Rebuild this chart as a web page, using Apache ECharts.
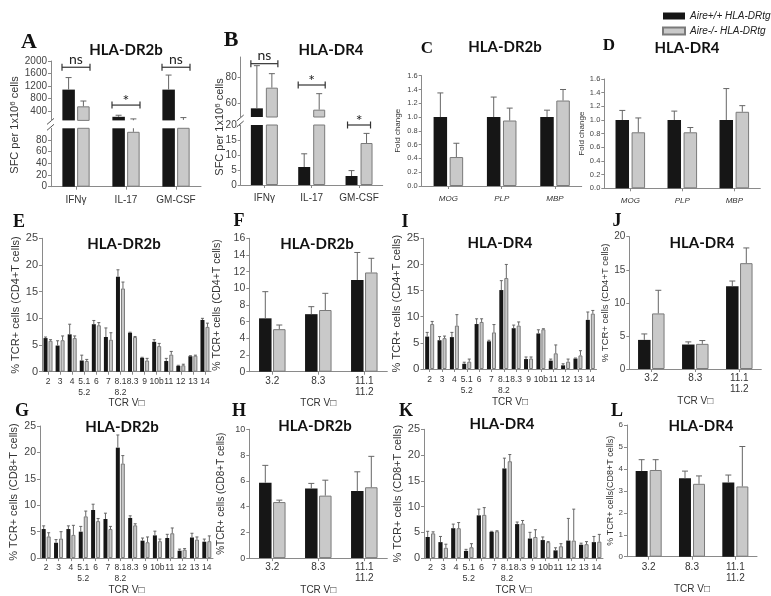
<!DOCTYPE html>
<html>
<head>
<meta charset="utf-8">
<script src="https://cdn.jsdelivr.net/npm/echarts@6/dist/echarts.min.js"></script>
<style>html,body{margin:0;padding:0;background:#fff}#chart{width:771px;height:596px}</style>
</head>
<body>
<div id="chart"></div>
<script>
// ---- data ----
var wtName = 'Aire+/+ HLA-DRtg';
var koName = 'Aire-/- HLA-DRtg';

var cytoCats = ['IFNγ', 'IL-17', 'GM-CSF'];
var aWt = [1085, 215, 1085], aWtErr = [1470, 265, 1550];
var aKo = [550, 94, 115], aKoErr = [720, 148, 190];
var aSig = ['ns', '*', 'ns'], aSigY = [1800, 590, 1800];

var bWt = [56.5, 6, 3], bWtErr = [88.5, 10.4, 4.8];
var bKo = [72, 55.5, 14], bKoErr = [82.5, 67.5, 17.2];
var bSig = ['ns', '*', '*'], bSigY = [90, 74, 20];

var antigenCats = ['MOG', 'PLP', 'MBP'];
var cWt = [1, 1, 1], cWtErr = [1.35, 1.29, 1.10];
var cKo = [0.42, 0.95, 1.24], cKoErr = [0.62, 1.13, 1.40];
var dWt = [1, 1, 1], dWtErr = [1.14, 1.13, 1.46];
var dKo = [0.82, 0.82, 1.12], dKoErr = [1.03, 0.89, 1.21];

var vbCats = ['2', '3', '4', '5.1\n5.2', '6', '7', '8.1\n8.2', '8.3', '9', '10b', '11', '12', '13', '14'];
var vbFewCats = ['3.2', '8.3', '11.1\n11.2'];

var eWt = [6.3, 4.9, 7.0, 2.1, 8.9, 6.5, 17.8, 7.3, 2.6, 5.6, 2.0, 1.1, 2.9, 9.7];
var eWtErr = [6.5, 5.8, 8.9, 3.1, 9.6, 8.2, 19.1, 7.4, 2.7, 6.0, 2.5, 1.2, 3.0, 10.0];
var eKo = [5.8, 5.9, 6.3, 2.0, 8.7, 6.0, 15.6, 6.5, 2.1, 4.8, 3.2, 1.2, 3.0, 8.4];
var eKoErr = [6.0, 6.7, 6.7, 2.3, 9.2, 7.3, 16.8, 6.6, 2.5, 5.3, 3.8, 1.4, 3.1, 9.1];

var fWt = [6.4, 6.9, 11.0], fWtErr = [9.6, 7.8, 14.3];
var fKo = [5.1, 7.4, 11.9], fKoErr = [5.6, 9.4, 13.6];

var iWt = [6.2, 5.5, 6.1, 1.0, 8.6, 5.3, 15.1, 7.8, 1.9, 6.8, 1.6, 0.7, 2.0, 9.4];
var iWtErr = [7.0, 6.2, 7.0, 1.3, 9.6, 5.5, 16.9, 8.4, 2.3, 7.5, 1.9, 1.0, 2.1, 10.9];
var iKo = [8.6, 5.9, 8.3, 1.4, 9.0, 7.0, 17.4, 8.3, 2.0, 7.6, 3.0, 1.4, 2.6, 10.6];
var iKoErr = [9.1, 6.3, 10.4, 1.9, 9.6, 8.5, 20.0, 9.0, 2.3, 7.7, 4.6, 1.9, 3.5, 11.2];

var jWt = [4.4, 3.7, 12.5], jWtErr = [5.3, 4.1, 13.3];
var jKo = [8.4, 3.8, 16.0], jKoErr = [11.9, 4.3, 18.3];

var gWt = [5.5, 2.9, 5.5, 5.0, 9.1, 7.4, 20.9, 7.6, 3.3, 4.3, 3.8, 1.4, 3.9, 3.1];
var gWtErr = [6.1, 3.5, 6.1, 6.0, 10.2, 8.5, 23.3, 8.0, 3.8, 5.1, 4.5, 1.7, 4.7, 3.6];
var gKo = [4.1, 3.7, 4.4, 7.9, 7.0, 5.5, 17.9, 6.2, 3.0, 3.2, 4.7, 1.6, 3.5, 3.2];
var gKoErr = [4.8, 5.0, 6.2, 8.9, 7.5, 6.0, 19.4, 6.5, 4.0, 3.6, 5.7, 1.8, 4.0, 4.2];

var hWt = [5.85, 5.4, 5.2], hWtErr = [7.2, 5.8, 6.7];
var hKo = [4.35, 4.85, 5.5], hKoErr = [4.5, 6.05, 7.9];

var kWt = [4.1, 3.1, 5.8, 1.4, 8.3, 5.1, 17.4, 6.6, 3.8, 3.5, 1.5, 3.4, 2.6, 3.1];
var kWtErr = [5.2, 4.2, 6.6, 1.7, 9.5, 5.2, 19.4, 7.0, 5.0, 4.1, 2.0, 7.7, 2.9, 4.2];
var kKo = [4.8, 2.0, 5.8, 2.1, 8.4, 5.2, 18.8, 6.7, 4.1, 3.1, 2.3, 3.4, 2.7, 3.2];
var kKoErr = [5.1, 2.7, 6.9, 2.8, 9.8, 5.3, 20.1, 7.3, 5.5, 3.2, 2.8, 9.5, 3.2, 4.6];

var lWt = [3.9, 3.57, 3.38], lWtErr = [4.42, 3.9, 3.72];
var lKo = [3.95, 3.32, 3.2], lKoErr = [4.42, 3.68, 5.02];

// ---- styles ----
var AX = '#8a8a8a', BLACK = '#161616', GRAY = '#c9c9c9', EDGE = '#7a7a7a', ERR = '#666';
var SANS = 'Liberation Sans', TITLE = 'Lato', SERIF = 'Liberation Serif';
var TCR = 'TCR V\u25A1';

var chart = echarts.init(document.getElementById('chart'));
var option = {
	animation: false,
	backgroundColor: '#fff',
	legend: {
		orient: 'vertical', left: 657, top: 6, itemWidth: 22, itemHeight: 7, itemGap: 5,
		icon: 'rect', data: [wtName, koName],
		textStyle: {fontStyle: 'italic', fontSize: 10, fontFamily: SANS, color: '#222', padding: [0, 0, 0, 0]}
	},
	grid: [], xAxis: [], yAxis: [], series: [], graphic: []
};

function plain(v) { return String(v); }

function addGrid(box, cats, y, x) {
	var gi = option.grid.length;
	option.grid.push({left: box[0], top: box[1], width: box[2], height: box[3]});
	var xa = {
		type: 'category', gridIndex: gi, data: cats, show: x.show !== false,
		axisLine: {show: true, lineStyle: {color: AX}},
		axisTick: {show: true, alignWithLabel: true, length: 3, lineStyle: {color: AX}},
		axisLabel: {interval: 0, fontSize: x.fontSize || 10, fontFamily: SANS,
			fontStyle: x.italic ? 'italic' : 'normal', color: '#333', margin: x.margin || 4, lineHeight: 11},
		splitLine: {show: false}
	};
	if (x.name) {
		xa.name = x.name; xa.nameLocation = 'middle'; xa.nameGap = x.nameGap;
		xa.nameTextStyle = {fontSize: 10, fontFamily: SANS, color: '#333'};
	}
	option.xAxis.push(xa);
	var ya = {
		type: 'value', gridIndex: gi, min: y.min, max: y.max,
		axisLine: {show: true, lineStyle: {color: AX}},
		axisTick: {show: true, length: 3, lineStyle: {color: AX}},
		axisLabel: {fontSize: y.fontSize || 10, fontFamily: SANS, color: '#444', margin: 4, formatter: y.fmt || plain},
		splitLine: {show: false}
	};
	if (y.interval) ya.interval = y.interval;
	if (y.ticks) { ya.axisLabel.customValues = y.ticks; ya.axisTick.customValues = y.ticks; }
	if (y.name) {
		ya.name = y.name; ya.nameLocation = 'middle'; ya.nameGap = y.nameGap;
		ya.nameTextStyle = {fontSize: y.nameSize || 11, fontFamily: SANS, color: '#333'};
	}
	option.yAxis.push(ya);
	return gi;
}

function errSeries(gi, vals, ups, off, cap) {
	return {
		type: 'custom', xAxisIndex: gi, yAxisIndex: gi, clip: true, silent: true, z: 3,
		data: vals.map(function(v, i) { return [i, v, ups[i]]; }),
		renderItem: function(params, api) {
			var p0 = api.coord([api.value(0), api.value(1)]);
			var p1 = api.coord([api.value(0), api.value(2)]);
			var x = p0[0] + off;
			return {type: 'group', children: [
				{type: 'line', shape: {x1: x, y1: p0[1], x2: x, y2: p1[1]}, style: {stroke: ERR, lineWidth: 1}},
				{type: 'line', shape: {x1: x - cap, y1: p1[1], x2: x + cap, y2: p1[1]}, style: {stroke: ERR, lineWidth: 1}}
			]};
		}
	};
}

function addBars(gi, wt, wtErr, ko, koErr, bw, gapPx, cap) {
	var gap = Math.round(gapPx / bw * 100) + '%';
	option.series.push({type: 'bar', name: wtName, xAxisIndex: gi, yAxisIndex: gi, data: wt,
		barWidth: bw, barGap: gap, clip: true, itemStyle: {color: BLACK}});
	option.series.push({type: 'bar', name: koName, xAxisIndex: gi, yAxisIndex: gi, data: ko,
		barWidth: bw, barGap: gap, clip: true, itemStyle: {color: GRAY, borderColor: EDGE, borderWidth: 1}});
	var off = (bw + gapPx) / 2;
	option.series.push(errSeries(gi, wt, wtErr, -off, cap));
	option.series.push(errSeries(gi, ko, koErr, off, cap));
}

function sigSeries(gi, idx, ys, labels, half) {
	return {
		type: 'custom', xAxisIndex: gi, yAxisIndex: gi, silent: true, z: 4,
		data: idx.map(function(i, k) { return [i, ys[k]]; }),
		renderItem: function(params, api) {
			var p = api.coord([api.value(0), api.value(1)]);
			var lbl = labels[params.dataIndex];
			var st = {stroke: '#333', lineWidth: 1.2};
			return {type: 'group', children: [
				{type: 'line', shape: {x1: p[0] - half, y1: p[1], x2: p[0] + half, y2: p[1]}, style: st},
				{type: 'line', shape: {x1: p[0] - half, y1: p[1] - 3.5, x2: p[0] - half, y2: p[1] + 3.5}, style: st},
				{type: 'line', shape: {x1: p[0] + half, y1: p[1] - 3.5, x2: p[0] + half, y2: p[1] + 3.5}, style: st},
				{type: 'text', x: p[0], y: lbl === '*' ? p[1] + 4 : p[1] - 1,
					style: {text: lbl, font: (lbl === '*' ? '16px ' : '14px ') + TITLE, fill: '#222', textAlign: 'center', textVerticalAlign: 'bottom'}}
			]};
		}
	};
}

// A: broken axis
var aTop = addGrid([51, 61, 150, 59.4], cytoCats, {min: 100, max: 2000, ticks: [400, 800, 1200, 1600, 2000]}, {show: false});
var aBot = addGrid([51, 128.3, 150, 58.4], cytoCats, {min: 0, max: 100, ticks: [0, 20, 40, 60, 80]}, {margin: 8});
addBars(aTop, aWt, aWtErr, aKo, aKoErr, 12.5, 2.3, 3);
addBars(aBot, aWt, aWtErr, aKo, aKoErr, 12.5, 2.3, 3);
option.series.push(sigSeries(aTop, [0, 1, 2], aSigY, aSig, 14));

// B: broken axis
var bTop = addGrid([240.7, 57, 142, 60], cytoCats, {min: 50, max: 95, ticks: [60, 80]}, {show: false});
var bBot = addGrid([240.7, 125, 142, 60], cytoCats, {min: 0, max: 20, interval: 5}, {margin: 8});
addBars(bTop, bWt, bWtErr, bKo, bKoErr, 12, 3, 3);
addBars(bBot, bWt, bWtErr, bKo, bKoErr, 12, 3, 3);
option.series.push(sigSeries(bTop, [0, 1], bSigY.slice(0, 2), bSig.slice(0, 2), 13.5));
option.series.push(sigSeries(bBot, [2], bSigY.slice(2), bSig.slice(2), 11.5));

// C, D
function oneDec(v) { return v.toFixed(1); }
var cG = addGrid([421.7, 75.7, 160, 110.3], antigenCats,
	{min: 0, max: 1.6, interval: 0.2, fontSize: 7.5, fmt: oneDec, name: 'Fold change', nameGap: 20, nameSize: 8},
	{italic: true, fontSize: 8, margin: 7});
addBars(cG, cWt, cWtErr, cKo, cKoErr, 13.5, 2.5, 3);
var dG = addGrid([604.3, 79, 156, 109.3], antigenCats,
	{min: 0, max: 1.6, interval: 0.2, fontSize: 7.5, fmt: oneDec, name: 'Fold change', nameGap: 13, nameSize: 8},
	{italic: true, fontSize: 8, margin: 7});
addBars(dG, dWt, dWtErr, dKo, dKoErr, 13.5, 2.5, 3);

// E, F, I, J (CD4)
var eG = addGrid([42, 238.3, 169, 133.4], vbCats,
	{min: 0, max: 25, interval: 5, fontSize: 11, name: '% TCR+ cells (CD4+T cells)', nameGap: 19, nameSize: 11},
	{fontSize: 8.5, margin: 4, name: TCR, nameGap: 20});
addBars(eG, eWt, eWtErr, eKo, eKoErr, 4, 1, 1.5);
var fG = addGrid([249.3, 238.3, 138, 133.4], vbFewCats,
	{min: 0, max: 16, interval: 2, fontSize: 10.5, name: '% TCR+ cells (CD4+T cells)', nameGap: 27, nameSize: 10.5},
	{fontSize: 10, margin: 4, name: TCR, nameGap: 19});
addBars(fG, fWt, fWtErr, fKo, fKoErr, 12.5, 1.5, 3);
var iG = addGrid([423.5, 238.3, 173, 130.7], vbCats,
	{min: 0, max: 25, interval: 5, fontSize: 11.5, name: '% TCR+ cells (CD4+T cells)', nameGap: 21, nameSize: 11},
	{fontSize: 8.5, margin: 5, name: TCR, nameGap: 22});
addBars(iG, iWt, iWtErr, iKo, iKoErr, 4, 1, 1.5);
var jG = addGrid([629.3, 236.7, 132, 132.3], vbFewCats,
	{min: 0, max: 20, interval: 5, fontSize: 10, name: '% TCR+ cells (CD4+T cells)', nameGap: 19, nameSize: 9.5},
	{fontSize: 10, margin: 4, name: TCR, nameGap: 22});
addBars(jG, jWt, jWtErr, jKo, jKoErr, 12.5, 1.5, 3);

// G, H, K, L (CD8)
var gG = addGrid([40, 426, 173, 135.7], vbCats,
	{min: 0, max: 25, interval: 5, fontSize: 10.5, name: '% TCR+ cells (CD8+T cells)', nameGap: 21, nameSize: 11},
	{fontSize: 8.5, margin: 4, name: TCR, nameGap: 21});
addBars(gG, gWt, gWtErr, gKo, gKoErr, 4, 1, 1.5);
var hG = addGrid([249.3, 429.3, 138, 131.4], vbFewCats,
	{min: 0, max: 10, interval: 2, fontSize: 9, name: '%TCR+ cells (CD8+T cells)', nameGap: 23, nameSize: 10},
	{fontSize: 10, margin: 4, name: TCR, nameGap: 21});
addBars(hG, hWt, hWtErr, hKo, hKoErr, 12.5, 1.5, 3);
var kG = addGrid([424, 429.3, 179, 133], vbCats,
	{min: 0, max: 25, interval: 5, fontSize: 11, name: '% TCR+ cells (CD8+T cells)', nameGap: 20, nameSize: 11},
	{fontSize: 9, margin: 4, name: TCR, nameGap: 21});
addBars(kG, kWt, kWtErr, kKo, kKoErr, 4.2, 1.2, 1.5);
var lG = addGrid([627, 425, 130, 131.7], vbFewCats,
	{min: 0, max: 6, interval: 1, fontSize: 8, name: '% TCR+ cells(CD8+T cells)', nameGap: 10, nameSize: 9},
	{fontSize: 10, margin: 5, name: TCR, nameGap: 24});
addBars(lG, lWt, lWtErr, lKo, lKoErr, 12, 2, 3);

// ---- titles, panel letters, broken-axis marks ----
var titles = [
	['HLA-DR2b', 126, 50], ['HLA-DR4', 331, 50], ['HLA-DR2b', 505, 47], ['HLA-DR4', 687, 48],
	['HLA-DR2b', 124, 244], ['HLA-DR2b', 317, 244], ['HLA-DR4', 500, 243], ['HLA-DR4', 702, 243],
	['HLA-DR2b', 122, 427], ['HLA-DR2b', 315, 426], ['HLA-DR4', 502, 424], ['HLA-DR4', 701, 426]
];
var letters = [
	['A', 29, 42, 22], ['B', 231, 40, 22], ['C', 427, 49, 17], ['D', 609, 46, 17],
	['E', 19, 222, 18], ['F', 239, 221, 18], ['I', 405, 222, 18], ['J', 617, 221, 18],
	['G', 22, 411, 18], ['H', 239, 411, 18], ['K', 406, 411, 18], ['L', 617, 411, 18]
];
titles.forEach(function(t) {
	option.graphic.push({type: 'text', x: t[1], y: t[2], style: {text: t[0], font: 'bold 15px ' + TITLE,
		fill: '#111', textAlign: 'center', textVerticalAlign: 'middle'}});
});
letters.forEach(function(t) {
	option.graphic.push({type: 'text', x: t[1], y: t[2], style: {text: t[0], font: 'bold ' + t[3] + 'px "' + SERIF + '"',
		fill: '#111', textAlign: 'center', textVerticalAlign: 'middle'}});
});
[[15, 125], [220, 127]].forEach(function(p) {
	option.graphic.push({type: 'text', x: p[0], y: p[1], rotation: Math.PI / 2,
		style: {text: 'SFC per 1x10{s|6} cells', font: '11px ' + SANS, fill: '#333',
			textAlign: 'center', textVerticalAlign: 'middle',
			rich: {s: {fontSize: 8, fontFamily: SANS, verticalAlign: 'top', padding: [0, 0, 5, 0]}}}});
});
[[51, 120.4, 128.3], [240.7, 117, 125]].forEach(function(b) {
	[b[1] + 1, b[2] - 1].forEach(function(y) {
		option.graphic.push({type: 'line', shape: {x1: b[0] - 4, y1: y + 3, x2: b[0] + 3, y2: y - 3},
			style: {stroke: '#555', lineWidth: 1}});
	});
});

chart.setOption(option);
</script>
</body>
</html>
